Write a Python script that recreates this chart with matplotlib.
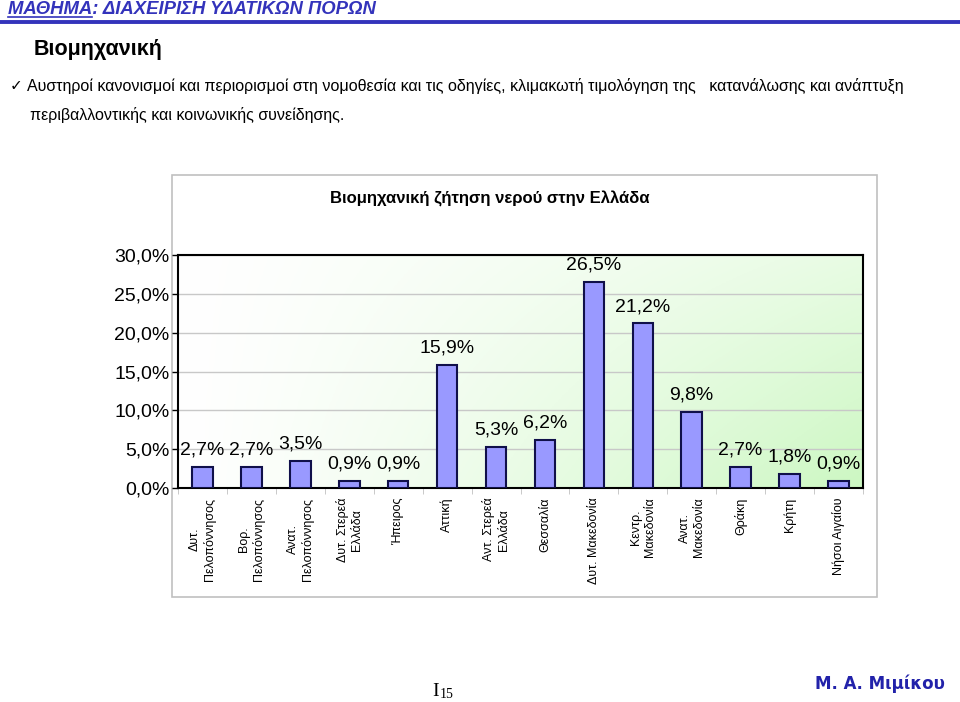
import matplotlib
matplotlib.use("Agg")
import matplotlib.pyplot as plt
import numpy as np
from matplotlib.patches import Rectangle
from matplotlib.lines import Line2D
from matplotlib.ticker import FixedLocator, FuncFormatter

categories = [
    "Δυτ.\nΠελοπόννησος", "Βορ.\nΠελοπόννησος", "Ανατ.\nΠελοπόννησος",
    "Δυτ. Στερεά\nΕλλάδα", "Ήπειρος", "Αττική", "Αντ. Στερεά\nΕλλάδα",
    "Θεσσαλία", "Δυτ. Μακεδονία", "Κεντρ.\nΜακεδονία", "Ανατ.\nΜακεδονία",
    "Θράκη", "Κρήτη", "Νήσοι Αιγαίου",
]
values = [2.7, 2.7, 3.5, 0.9, 0.9, 15.9, 5.3, 6.2, 26.5, 21.2, 9.8, 2.7, 1.8, 0.9]
yticks = [0, 5, 10, 15, 20, 25, 30]

ARIAL = ["Liberation Sans", "DejaVu Sans"]
BLUE = "#3333bb"


def pct(v, _=None):
    return f"{v:.1f}%".replace(".", ",")


def main():
    fig = plt.figure(figsize=(9.6, 7.02), dpi=100)

    def fx(x):
        return x / 960

    def fy(y):
        return 1 - y / 702

    # header
    fig.text(fx(8), fy(9), "ΜΑΘΗΜΑ: ΔΙΑΧΕΙΡΙΣΗ ΥΔΑΤΙΚΩΝ ΠΟΡΩΝ", color=BLUE,
             fontsize=13.3, fontweight="bold", fontstyle="italic", family=ARIAL,
             va="center", ha="left")
    t1 = fig.text(fx(8), fy(9), "ΜΑΘΗΜΑ", fontsize=13.3, fontweight="bold",
                  fontstyle="italic", family=ARIAL, va="center", ha="left")
    fig.add_artist(Line2D([0, 1], [fy(22), fy(22)], color=BLUE, lw=2.8))
    fig.canvas.draw()
    bb = t1.get_window_extent()
    t1.remove()
    fig.add_artist(Line2D([bb.x0 / 960, bb.x1 / 960], [fy(17), fy(17)],
                          color=BLUE, lw=1.2))

    fig.text(fx(34), fy(49), "Βιομηχανική", fontsize=15.5, fontweight="bold",
             va="center", ha="left", family=ARIAL)
    fig.text(fx(10), fy(86), "✓", fontsize=11, va="center", ha="left",
             family=["DejaVu Sans"])
    fig.text(fx(27), fy(86),
             "Αυστηροί κανονισμοί και περιορισμοί στη νομοθεσία και τις οδηγίες, "
             "κλιμακωτή τιμολόγηση της   κατανάλωσης και ανάπτυξη",
             fontsize=11.5, va="center", ha="left", family=ARIAL)
    fig.text(fx(30), fy(115), "περιβαλλοντικής και κοινωνικής συνείδησης.",
             fontsize=11.5, va="center", ha="left", family=ARIAL)

    # chart frame
    fig.add_artist(Rectangle((fx(172), fy(597)), fx(877) - fx(172),
                             fy(175) - fy(597), transform=fig.transFigure,
                             facecolor="white", edgecolor="#c0c0c0", lw=1.2,
                             zorder=0))
    fig.text(fx(490), fy(199), "Βιομηχανική ζήτηση νερού στην Ελλάδα",
             fontsize=12, fontweight="bold", family=ARIAL, ha="center",
             va="center")

    ax = fig.add_axes([fx(178), fy(488), fx(863) - fx(178), fy(255) - fy(488)])
    n = len(values)
    x = np.arange(n)

    # gradient background: white on the left, light green bottom-right
    gx = np.linspace(0, 1, 200)
    gy = np.linspace(0, 1, 100)
    X, Y = np.meshgrid(gx, gy)
    t = np.clip(X ** 1.2 * (0.45 + 0.55 * (1 - Y)), 0, 1)
    green = np.array([0.80, 0.97, 0.76])
    img = (1 - t[..., None]) * np.ones(3) + t[..., None] * green
    ax.imshow(img, extent=[-0.5, n - 0.5, 0, 30], origin="lower",
              aspect="auto", zorder=0)

    ax.bar(x, values, width=0.42, color="#9999ff", edgecolor="#10104a",
           lw=1.5, zorder=3)
    for xi, v in zip(x, values):
        ax.annotate(pct(v), (xi, v), xytext=(0, 6), textcoords="offset points",
                    ha="center", va="bottom", fontsize=14, family=ARIAL,
                    zorder=4)

    ax.set_xlim(-0.5, n - 0.5)
    ax.set_ylim(0, 30)
    ax.yaxis.set_major_locator(FixedLocator(yticks))
    ax.yaxis.set_major_formatter(FuncFormatter(pct))
    ax.grid(axis="y", color="#c8c8c8", lw=1, zorder=1)
    ax.set_axisbelow(True)
    for s in ax.spines.values():
        s.set_linewidth(1.5)
        s.set_color("black")
    ax.tick_params(axis="y", labelsize=14, length=4, width=1, pad=2)
    for lab in ax.get_yticklabels():
        lab.set_family(ARIAL)

    ax.set_xticks(x)
    ax.set_xticklabels(categories, rotation=90, fontsize=9,
                       family=ARIAL, va="top", ha="center",
                       linespacing=1.25)
    ax.tick_params(axis="x", which="major", length=0, pad=7)
    ax.set_xticks(np.arange(n + 1) - 0.5, minor=True)
    ax.tick_params(axis="x", which="minor", length=4, color="#c0c0c0")

    # footer
    fig.text(fx(432), fy(692), "I", fontsize=14, family=["Liberation Serif"],
             ha="left", va="center")
    fig.text(fx(440), fy(694), "15", fontsize=10, family=["Liberation Serif"],
             ha="left", va="center")
    fig.text(fx(945), fy(684), "Μ. Α. Μιμίκου", fontsize=12, fontweight="bold",
             color="#2222aa", ha="right", va="center", family=["DejaVu Sans"])

    fig.savefig("out.png", dpi=100)


if __name__ == "__main__":
    main()
